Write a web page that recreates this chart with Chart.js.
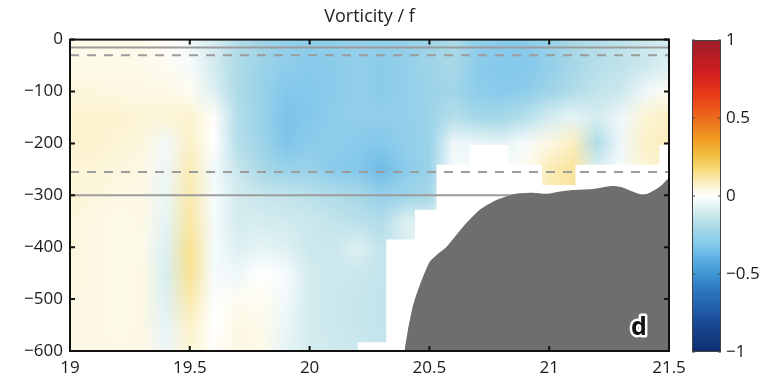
<!DOCTYPE html>
<html>
<head>
<meta charset="utf-8">
<script src="https://cdn.jsdelivr.net/npm/chart.js@4.4.1/dist/chart.umd.min.js"></script>
<style>
  html, body { margin: 0; padding: 0; background: #fff; }
  #wrap { position: relative; width: 780px; height: 378px; }
  #section, #colorbar { position: absolute; top: 0; }
  #section { left: 0; }
  #colorbar { left: 680px; }
</style>
</head>
<body>
<div id="wrap">
  <canvas id="section" width="780" height="378"></canvas>
  <canvas id="colorbar" width="100" height="378"></canvas>
</div>
<script>
// section grid: longitude columns, depth rows (m)
const lons = [19.0, 19.1, 19.2, 19.3, 19.4, 19.5, 19.6, 19.7, 19.8, 19.9, 20.0, 20.1, 20.2,
              20.3, 20.4, 20.5, 20.6, 20.7, 20.8, 20.9, 21.0, 21.1, 21.2, 21.3, 21.4, 21.5];
const depths = [0, -50, -100, -150, -200, -250, -300, -350, -400, -450, -500, -550, -600];

// relative vorticity / f, one row per depth
const vorticity = [
  [0.03, 0.03, 0.03, 0.03, 0.01, -0.03, -0.10, -0.17, -0.22, -0.26, -0.28, -0.27, -0.26, -0.27, -0.26, -0.22, -0.19, -0.27, -0.29, -0.29, -0.25, -0.19, -0.17, -0.15, -0.12, -0.10],
  [0.03, 0.03, 0.03, 0.03, 0.02, -0.02, -0.10, -0.19, -0.24, -0.28, -0.30, -0.29, -0.27, -0.29, -0.27, -0.23, -0.20, -0.29, -0.31, -0.31, -0.27, -0.21, -0.17, -0.15, -0.12, -0.08],
  [0.05, 0.05, 0.04, 0.04, 0.04, 0.02, -0.08, -0.19, -0.25, -0.31, -0.31, -0.29, -0.27, -0.29, -0.27, -0.24, -0.22, -0.28, -0.30, -0.28, -0.23, -0.18, -0.14, -0.12, -0.04, 0.02],
  [0.07, 0.07, 0.07, 0.06, 0.06, 0.07, 0.01, -0.17, -0.25, -0.33, -0.31, -0.28, -0.27, -0.27, -0.27, -0.24, -0.17, -0.21, -0.21, -0.17, -0.10, -0.06, -0.10, -0.04, 0.06, 0.09],
  [0.07, 0.07, 0.06, 0.05, -0.03, 0.08, 0.00, -0.17, -0.23, -0.32, -0.29, -0.28, -0.30, -0.31, -0.27, -0.25, -0.04, -0.05, -0.06, -0.02, 0.04, 0.09, -0.18, -0.04, 0.08, 0.09],
  [0.06, 0.06, 0.05, 0.04, -0.04, 0.10, -0.03, -0.13, -0.20, -0.25, -0.25, -0.30, -0.31, -0.36, -0.29, -0.25, -0.02, -0.02, -0.02, 0.02, 0.10, 0.13, -0.08, -0.02, 0.06, 0.08],
  [0.06, 0.05, 0.04, 0.04, -0.05, 0.11, -0.02, -0.10, -0.13, -0.14, -0.16, -0.18, -0.20, -0.26, -0.24, -0.20, -0.04, 0.00, 0.00, 0.02, 0.10, 0.13, 0.00, 0.00, 0.00, 0.00],
  [0.05, 0.04, 0.03, 0.04, -0.06, 0.12, -0.02, -0.10, -0.10, -0.11, -0.12, -0.14, -0.16, -0.18, -0.08, -0.08, 0.00, 0.00, 0.00, 0.00, 0.00, 0.00, 0.00, 0.00, 0.00, 0.00],
  [0.05, 0.04, 0.03, 0.03, -0.08, 0.14, -0.02, -0.08, -0.06, -0.08, -0.12, -0.12, -0.08, -0.14, -0.10, 0.00, 0.00, 0.00, 0.00, 0.00, 0.00, 0.00, 0.00, 0.00, 0.00, 0.00],
  [0.05, 0.04, 0.03, 0.04, -0.09, 0.14, -0.02, -0.04, 0.00, -0.02, -0.10, -0.12, -0.12, -0.14, -0.10, 0.00, 0.00, 0.00, 0.00, 0.00, 0.00, 0.00, 0.00, 0.00, 0.00, 0.00],
  [0.04, 0.04, 0.03, 0.04, -0.08, 0.11, -0.01, 0.02, 0.02, -0.03, -0.10, -0.12, -0.13, -0.14, -0.10, 0.00, 0.00, 0.00, 0.00, 0.00, 0.00, 0.00, 0.00, 0.00, 0.00, 0.00],
  [0.04, 0.04, 0.03, 0.04, -0.06, 0.08, 0.00, 0.04, 0.03, -0.05, -0.10, -0.12, -0.13, -0.14, -0.10, 0.00, 0.00, 0.00, 0.00, 0.00, 0.00, 0.00, 0.00, 0.00, 0.00, 0.00],
  [0.04, 0.04, 0.04, 0.04, -0.04, 0.06, 0.01, 0.04, 0.03, -0.06, -0.10, -0.11, -0.12, -0.13, -0.10, 0.00, 0.00, 0.00, 0.00, 0.00, 0.00, 0.00, 0.00, 0.00, 0.00, 0.00]
];

// lower limit of valid data (stepped), below it nothing was sampled
const maskLon   = [20.2, 20.32, 20.44, 20.53, 20.67, 20.83, 20.97, 21.11, 21.46, 21.5];
const maskDepth = [-583, -385, -328, -241, -203, -241, -280, -241, -203, -203];

// sea floor
const bottomLon   = [20.396, 20.41, 20.43, 20.46, 20.5, 20.53, 20.57, 20.64, 20.71, 20.78, 20.86, 20.93,
                     20.99, 21.04, 21.1, 21.18, 21.26, 21.3, 21.35, 21.39, 21.42, 21.46, 21.5];
const bottomDepth = [-600, -560, -515, -473, -429, -415, -400, -361, -328, -309, -297, -295,
                     -297, -293, -290, -288, -282, -284, -293, -299, -295, -284, -266];

// reference depths: mixed layer (solid) and averaging window (dashed)
const solidDepths = [-15, -300];
const dashedDepths = [-30, -255];

const xTicks = [19, 19.5, 20, 20.5, 21, 21.5];
const yTicks = [0, -100, -200, -300, -400, -500, -600];
const cbTicks = [1, 0.5, 0, -0.5, -1];

// diverging colour map
const cmapValues = [-1, -0.8, -0.6, -0.5, -0.4, -0.3, -0.2, -0.1, 0, 0.08, 0.15, 0.25, 0.35, 0.5, 0.65, 0.8, 1];
const cmapColors = ['#0f2d6e', '#1a4c98', '#2d78bf', '#3e95d3', '#5fb1e2', '#88cbec', '#a8d8e6', '#d4ecef', '#ffffff',
                    '#fbf1c8', '#f8df8a', '#f3c245', '#f0a024', '#ec6a1e', '#e83a18', '#cf1d20', '#9a1f29'];

const panelLabel = 'd';
const FONT = 'Open Sans';

const hexToRgb = h => [1, 3, 5].map(i => parseInt(h.slice(i, i + 2), 16));
const cmapRgb = cmapColors.map(hexToRgb);

function colorFor(v) {
  if (v <= cmapValues[0]) return cmapRgb[0];
  for (let i = 1; i < cmapValues.length; i++) {
    if (v <= cmapValues[i]) {
      const t = (v - cmapValues[i - 1]) / (cmapValues[i] - cmapValues[i - 1]);
      const a = cmapRgb[i - 1], b = cmapRgb[i];
      return a.map((c, k) => Math.round(c + (b[k] - c) * t));
    }
  }
  return cmapRgb[cmapRgb.length - 1];
}

const minus = v => String(v).replace('-', '\u2212');

// paints the gridded field under the datasets, smoothed by the canvas
const heatmap = {
  id: 'heatmap',
  beforeDatasetsDraw(chart) {
    const { ctx, chartArea: a, scales: { x, y } } = chart;
    const nx = lons.length, ny = depths.length;
    const off = document.createElement('canvas');
    off.width = nx;
    off.height = ny;
    const octx = off.getContext('2d');
    const img = octx.createImageData(nx, ny);
    for (let j = 0; j < ny; j++) {
      for (let i = 0; i < nx; i++) {
        const c = colorFor(vorticity[j][i]);
        const k = (j * nx + i) * 4;
        img.data[k] = c[0];
        img.data[k + 1] = c[1];
        img.data[k + 2] = c[2];
        img.data[k + 3] = 255;
      }
    }
    octx.putImageData(img, 0, 0);

    const hx = (lons[1] - lons[0]) / 2;
    const hy = (depths[0] - depths[1]) / 2;
    const left = x.getPixelForValue(lons[0] - hx);
    const right = x.getPixelForValue(lons[nx - 1] + hx);
    const top = y.getPixelForValue(depths[0] + hy);
    const bottom = y.getPixelForValue(depths[ny - 1] - hy);

    ctx.save();
    ctx.beginPath();
    ctx.rect(a.left, a.top, a.width, a.height);
    ctx.clip();
    ctx.imageSmoothingEnabled = true;
    ctx.imageSmoothingQuality = 'medium';
    ctx.drawImage(off, left, top, right - left, bottom - top);
    ctx.restore();
  }
};

// box with inward ticks on all sides, plus the panel letter
const frame = {
  id: 'frame',
  afterDraw(chart) {
    const { ctx, chartArea: a, scales: { x, y } } = chart;
    ctx.save();
    ctx.strokeStyle = '#111';
    ctx.lineWidth = 2;
    ctx.beginPath();
    xTicks.forEach(v => {
      const px = x.getPixelForValue(v);
      ctx.moveTo(px, a.bottom); ctx.lineTo(px, a.bottom - 5);
      ctx.moveTo(px, a.top); ctx.lineTo(px, a.top + 5);
    });
    yTicks.forEach(v => {
      const py = y.getPixelForValue(v);
      ctx.moveTo(a.left, py); ctx.lineTo(a.left + 5, py);
      ctx.moveTo(a.right, py); ctx.lineTo(a.right - 5, py);
    });
    ctx.stroke();
    ctx.strokeRect(a.left, a.top, a.width, a.height);

    ctx.font = `bold 25px "${FONT}"`;
    ctx.textAlign = 'center';
    ctx.textBaseline = 'alphabetic';
    const lx = a.right - 30, ly = a.bottom - 16;
    ctx.lineJoin = 'round';
    ctx.lineWidth = 5;
    ctx.strokeStyle = '#fff';
    ctx.strokeText(panelLabel, lx, ly);
    ctx.fillStyle = '#111';
    ctx.fillText(panelLabel, lx, ly);
    ctx.restore();
  }
};

const hline = (d, dash) => ({
  data: [{ x: lons[0], y: d }, { x: lons[lons.length - 1], y: d }],
  borderColor: '#9c9c9c',
  borderWidth: 2,
  borderDash: dash,
  pointRadius: 0,
  fill: false,
  order: 1
});

new Chart(document.getElementById('section'), {
  type: 'line',
  data: {
    datasets: [
      {
        data: bottomLon.map((v, i) => ({ x: v, y: bottomDepth[i] })),
        borderWidth: 0,
        borderColor: '#6e6e6e',
        backgroundColor: '#6e6e6e',
        fill: 'start',
        tension: 0.2,
        pointRadius: 0,
        order: 0
      },
      ...solidDepths.map(d => hline(d, [])),
      ...dashedDepths.map(d => hline(d, [9, 8])),
      {
        data: maskLon.map((v, i) => ({ x: v, y: maskDepth[i] })),
        stepped: 'before',
        borderWidth: 0,
        borderColor: '#ffffff',
        backgroundColor: '#ffffff',
        fill: 'start',
        pointRadius: 0,
        order: 2
      }
    ]
  },
  options: {
    responsive: false,
    animation: false,
    layout: { padding: { right: 111 } },
    plugins: {
      legend: { display: false },
      tooltip: { enabled: false },
      title: {
        display: true,
        text: 'Vorticity / f',
        fullSize: false,
        color: '#222',
        font: { family: FONT, size: 18, weight: 500 },
        padding: { top: 6, bottom: 12 }
      }
    },
    scales: {
      x: {
        type: 'linear',
        min: 19,
        max: 21.5,
        grid: { display: false, drawTicks: false },
        border: { display: false },
        afterBuildTicks: s => { s.ticks = xTicks.map(v => ({ value: v })); },
        afterFit: s => { s.height = 27; },
        ticks: {
          color: '#1a1a1a',
          padding: 7,
          maxRotation: 0,
          font: { family: FONT, size: 17 },
          callback: v => minus(v)
        }
      },
      y: {
        type: 'linear',
        min: -600,
        max: 0,
        grid: { display: false, drawTicks: false },
        border: { display: false },
        afterBuildTicks: s => { s.ticks = yTicks.map(v => ({ value: v })); },
        afterFit: s => { s.width = 70; },
        ticks: {
          color: '#1a1a1a',
          padding: 7,
          font: { family: FONT, size: 17 },
          callback: v => minus(v)
        }
      }
    }
  },
  plugins: [heatmap, frame]
});

// colour bar drawn against its own value scale
const colorbar = {
  id: 'colorbar',
  beforeDatasetsDraw(chart) {
    const { ctx, chartArea: a, scales: { y } } = chart;
    const y0 = y.getPixelForValue(y.min), y1 = y.getPixelForValue(y.max);
    const grad = ctx.createLinearGradient(0, y0, 0, y1);
    cmapValues.forEach((v, i) => grad.addColorStop((v - y.min) / (y.max - y.min), cmapColors[i]));
    ctx.save();
    ctx.fillStyle = grad;
    ctx.fillRect(a.left, a.top, a.width, a.height);
    ctx.strokeStyle = '#444';
    ctx.lineWidth = 1;
    ctx.beginPath();
    cbTicks.forEach(v => {
      const py = y.getPixelForValue(v);
      ctx.moveTo(a.left, py); ctx.lineTo(a.left + 3, py);
      ctx.moveTo(a.right, py); ctx.lineTo(a.right - 3, py);
    });
    ctx.stroke();
    ctx.strokeRect(a.left + 0.5, a.top + 0.5, a.width - 1, a.height - 1);
    ctx.restore();
  }
};

new Chart(document.getElementById('colorbar'), {
  type: 'line',
  data: { datasets: [] },
  options: {
    responsive: false,
    animation: false,
    layout: { padding: { left: 12, top: 40, bottom: 26 } },
    plugins: { legend: { display: false }, tooltip: { enabled: false } },
    scales: {
      x: { type: 'linear', display: false, min: 0, max: 1 },
      y: {
        type: 'linear',
        position: 'right',
        min: -1,
        max: 1,
        grid: { display: false, drawTicks: false },
        border: { display: false },
        afterBuildTicks: s => { s.ticks = cbTicks.map(v => ({ value: v })); },
        afterFit: s => { s.width = 59; },
        ticks: {
          color: '#1a1a1a',
          padding: 5,
          font: { family: FONT, size: 17 },
          callback: v => minus(v)
        }
      }
    }
  },
  plugins: [colorbar]
});
</script>
</body>
</html>
